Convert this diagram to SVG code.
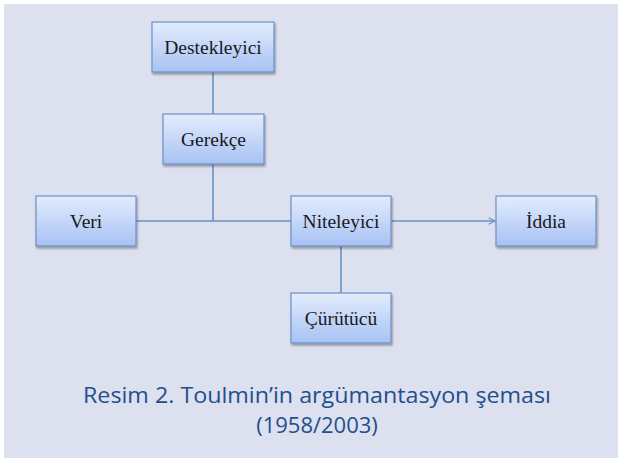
<svg xmlns="http://www.w3.org/2000/svg" width="622" height="462" viewBox="0 0 622 462">
  <defs>
    <linearGradient id="boxFill" x1="0" y1="0" x2="0" y2="1">
      <stop offset="0" stop-color="#e3ecfd"/>
      <stop offset="1" stop-color="#a7c2f3"/>
    </linearGradient>
    <filter id="shadow" x="-10%" y="-10%" width="130%" height="140%">
      <feGaussianBlur in="SourceAlpha" stdDeviation="1.2"/>
      <feOffset dx="1" dy="2" result="b"/>
      <feComponentTransfer><feFuncA type="linear" slope="0.35"/></feComponentTransfer>
      <feMerge><feMergeNode/><feMergeNode in="SourceGraphic"/></feMerge>
    </filter>
    <marker id="openArrow" viewBox="0 0 10 10" refX="9" refY="5" markerWidth="8" markerHeight="8" markerUnits="userSpaceOnUse" orient="auto">
      <path d="M1,1 L9,5 L1,9" fill="none" stroke="#6a92c9" stroke-width="1.4"/>
    </marker>
  </defs>
  <style>
    .box { fill: url(#boxFill); stroke: #6a92c9; stroke-width: 1.2; filter: url(#shadow); }
    .label { font-family: "Liberation Serif", "DejaVu Serif", "Times New Roman", serif; font-size: 19.5px; fill: #1a1a1a; text-anchor: middle; }
    .link { stroke: #6a92c9; stroke-width: 1.6; fill: none; }
    .caption { font-family: "Open Sans", "Liberation Sans", sans-serif; font-size: 22px; fill: #1f4f8f; text-anchor: middle; }
  </style>

  <rect x="0" y="0" width="622" height="462" fill="#ffffff"/>
  <rect x="4" y="4" width="614" height="454" fill="#dde0ee"/>

  <g id="connectors">
    <line class="link" x1="213" y1="72" x2="213" y2="114"/>
    <line class="link" x1="213" y1="164" x2="213" y2="221"/>
    <line class="link" x1="136" y1="221" x2="291" y2="221"/>
    <line class="link" x1="341" y1="246" x2="341" y2="293"/>
    <line class="link" x1="391" y1="221" x2="495" y2="221" marker-end="url(#openArrow)"/>
  </g>

  <g id="destekleyici">
    <rect class="box" x="152" y="22" width="122" height="50"/>
    <text class="label" x="213" y="54">Destekleyici</text>
  </g>
  <g id="gerekce">
    <rect class="box" x="163" y="114" width="101" height="50"/>
    <text class="label" x="213.5" y="146">Gerekçe</text>
  </g>
  <g id="veri">
    <rect class="box" x="36" y="196" width="100" height="50"/>
    <text class="label" x="86" y="228">Veri</text>
  </g>
  <g id="niteleyici">
    <rect class="box" x="291" y="196" width="100" height="50"/>
    <text class="label" x="341" y="228">Niteleyici</text>
  </g>
  <g id="iddia">
    <rect class="box" x="496" y="196" width="100" height="50"/>
    <text class="label" x="546" y="228">İddia</text>
  </g>
  <g id="curutucu">
    <rect class="box" x="291" y="293" width="100" height="50"/>
    <text class="label" x="341" y="325">Çürütücü</text>
  </g>

  <g id="caption">
    <text class="caption" x="317" y="403" textLength="468" lengthAdjust="spacingAndGlyphs">Resim 2. Toulmin’in argümantasyon şeması</text>
    <text class="caption" x="317" y="433">(1958/2003)</text>
  </g>
</svg>
